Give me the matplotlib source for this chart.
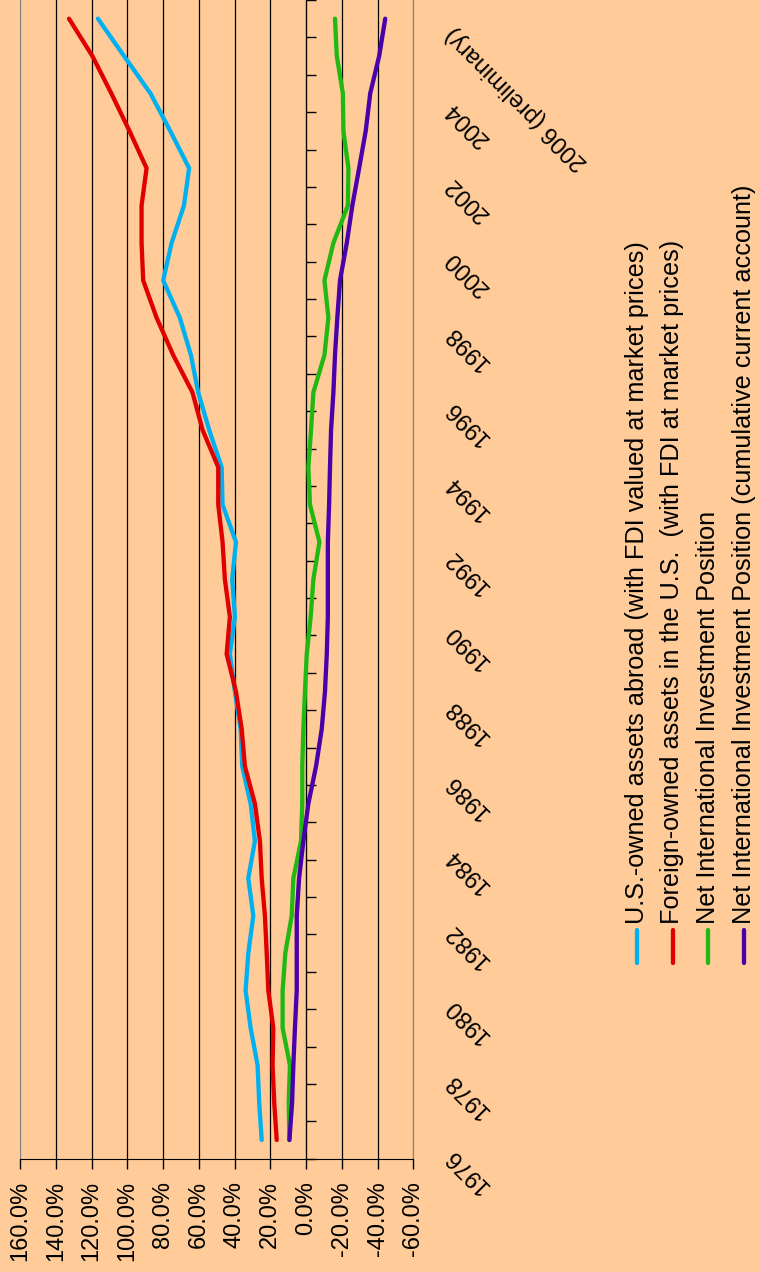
import matplotlib
matplotlib.use("Agg")
import matplotlib.pyplot as plt
from matplotlib.lines import Line2D
import matplotlib.transforms as mtransforms

plt.rcParams["font.family"] = ["Liberation Sans", "DejaVu Sans"]

YEARS = list(range(1976, 2007))
US_OWNED = [24.8, 26.2, 27.1, 31.0, 33.8, 32.3, 29.5, 32.3, 28.6, 31.0,
            35.7, 36.6, 39.8, 42.6, 39.8, 41.3, 39.2, 46.7, 47.2, 54.2,
            60.3, 64.4, 70.6, 79.9, 75.2, 68.3, 65.4, 76.0, 87.0, 101.8,
            116.4]
FOREIGN_OWNED = [16.4, 17.8, 18.7, 18.3, 21.1, 22.0, 23.0, 24.8, 25.8, 28.6,
                 34.2, 36.0, 39.2, 44.4, 42.6, 45.4, 46.7, 49.1, 49.1, 57.9,
                 63.5, 74.3, 83.6, 91.1, 92.0, 92.0, 89.2, 98.8, 108.9, 119.5,
                 132.6]
NIIP = [9.3, 9.7, 9.0, 13.1, 13.1, 11.6, 8.0, 7.1, 2.8, 2.1,
        2.1, 1.5, 0.6, -0.4, -2.6, -4.1, -7.5, -2.2, -1.3, -2.8,
        -4.1, -10.3, -12.5, -10.3, -15.3, -23.4, -23.7, -20.9, -20.6, -17.2,
        -16.2]
NIIP_CUM = [9.3, 7.8, 7.1, 6.2, 5.2, 5.2, 5.2, 3.9, 1.5, -1.3,
            -5.6, -8.8, -10.6, -11.6, -12.2, -12.2, -12.2, -12.9, -13.4, -14.0,
            -15.3, -16.2, -17.5, -19.0, -22.8, -25.9, -29.7, -33.4, -35.9, -40.9,
            -44.3]

SERIES = [
    ("U.S.-owned assets abroad (with FDI valued at market prices)", US_OWNED, "#00B0F0"),
    ("Foreign-owned assets in the U.S.  (with FDI at market prices)", FOREIGN_OWNED, "#E00000"),
    ("Net International Investment Position", NIIP, "#22B814"),
    ("Net International Investment Position (cumulative current account)", NIIP_CUM, "#4A00AA"),
]
VALUE_TICKS = [160, 140, 120, 100, 80, 60, 40, 20, 0, -20, -40, -60]
YEAR_LABELS = [(y, str(y)) for y in range(1976, 2006, 2)] + [(2006, "2006 (preliminary)")]

BG = "#FFCC99"
FS = 17
W, H = 759, 1272

fig = plt.figure(figsize=(W / 100, H / 100), dpi=100, facecolor=BG)
ax = fig.add_axes([20 / W, 1 - 1158.7 / H, 393.3 / W, 1158.7 / H])
ax.set_facecolor(BG)

for name, vals, color in SERIES:
    ax.plot(vals, YEARS, color=color, lw=3.1, solid_capstyle="round",
            solid_joinstyle="miter", zorder=3)

ax.set_xlim(160, -60)
ax.set_ylim(YEARS[0] - 0.5, YEARS[-1] + 0.5)

ax.set_xticks(VALUE_TICKS)
ax.set_xticklabels([f"{v:.1f}%" for v in VALUE_TICKS], rotation=90,
                   fontsize=FS)
ax.tick_params(axis="x", direction="out", length=7, width=1, pad=9,
               color="black")
ax.xaxis.grid(True, color="black", lw=0.9)
ax.set_axisbelow(True)
ax.get_xgridlines()[0].set_color("#808080")
ax.get_xgridlines()[-1].set_color("#808080")

# category axis crosses at 0 %, ticks between years
ax.spines["left"].set_position(("data", 0))
ax.spines["left"].set_color("black")
ax.set_yticks([y - 0.5 for y in YEARS] + [YEARS[-1] + 0.5])
ax.set_yticklabels([])
ax.tick_params(axis="y", direction="in", length=7, width=1)
ax.spines["top"].set_visible(False)
ax.spines["right"].set_color("#808080")
ax.spines["bottom"].set_color("black")

trans = mtransforms.blended_transform_factory(ax.transAxes, ax.transData)
for year, label in YEAR_LABELS:
    ax.text(1.09, year - 0.31, label, transform=trans, rotation=135,
            rotation_mode="anchor", ha="right", va="center", fontsize=FS,
            clip_on=False)

# legend, drawn rotated on the right side
for i, (name, vals, color) in enumerate(SERIES):
    xc = (637 + 35.5 * i) / W
    fig.add_artist(Line2D([xc, xc], [1 - 963 / H, 1 - 930 / H], color=color,
                          lw=3.1, solid_capstyle="round"))
    fig.text(xc, 1 - 924 / H, name, rotation=90, ha="center", va="bottom",
             fontsize=18.2)

fig.savefig("out.png", dpi=100, facecolor=BG)
